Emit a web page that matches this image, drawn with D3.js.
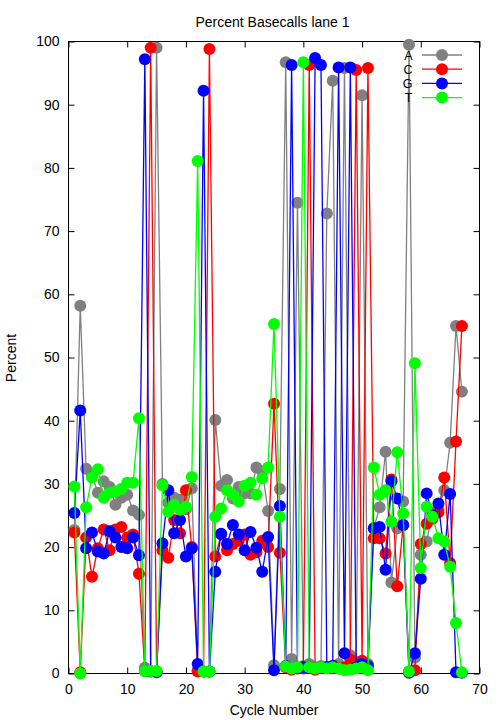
<!DOCTYPE html>
<html>
<head>
<meta charset="utf-8">
<script src="https://cdn.jsdelivr.net/npm/d3@7"></script>
<style>
  html, body { margin: 0; padding: 0; background: #fff; }
  svg { display: block; }
  text { font-family: "Liberation Sans", Arial, Helvetica, sans-serif; }
</style>
</head>
<body>
<svg id="chart" width="504" height="720"></svg>
<script>
const cycles = [1,2,3,4,5,6,7,8,9,10,11,12,13,14,15,16,17,18,19,20,21,22,23,24,25,26,27,28,29,30,31,32,33,34,35,36,37,38,39,40,41,42,43,44,45,46,47,48,49,50,51,52,53,54,55,56,57,58,59,60,61,62,63,64,65,66,67];

const seriesA = [22.7,58.2,32.4,31.4,28.6,30.4,29.5,26.7,27.8,28.3,25.8,25.1,0.9,0.4,99.0,30.0,27.0,27.8,27.5,26.0,29.3,0.5,0.3,0.3,40.1,29.7,30.6,27.7,29.5,28.5,28.5,32.6,32.0,25.7,1.3,29.2,96.7,2.3,74.5,1.2,1.5,1.0,1.2,72.8,93.8,1.5,95.8,2.9,1.8,91.5,1.5,23.0,26.3,35.1,14.4,23.0,27.2,99.5,2.5,18.8,20.9,25.5,26.0,29.0,36.5,55.0,44.6];

const seriesC = [22.3,0.2,21.5,15.3,19.8,22.8,19.5,22.8,23.2,21.5,22.0,15.8,0.4,99.0,0.3,19.5,18.3,24.3,22.2,29.0,20.0,0.3,0.3,98.8,18.5,22.0,19.5,20.5,21.0,22.0,18.8,19.2,21.0,20.0,42.7,19.1,1.0,0.6,1.0,0.8,96.3,0.6,1.0,1.0,1.2,0.8,1.0,2.2,95.5,2.0,95.8,21.4,21.4,19.0,30.7,13.8,23.5,0.3,0.5,20.5,23.7,24.5,25.5,31.0,17.5,36.7,55.0];

const seriesG = [25.4,41.6,19.8,22.3,19.3,19.0,22.5,21.5,20.0,19.8,21.5,18.7,97.2,0.3,0.2,20.6,29.0,22.2,24.3,18.5,19.8,1.5,92.2,0.3,16.1,22.1,20.5,23.5,22.0,19.5,22.4,19.9,16.1,21.6,0.5,26.5,1.2,96.3,0.8,1.0,1.0,97.4,96.3,1.0,1.2,95.9,3.2,95.9,1.0,1.5,1.2,23.0,23.2,16.4,30.4,27.7,23.5,0.1,3.2,15.0,28.5,25.0,26.9,18.8,28.4,0.2,0.1];

const seriesT = [29.6,0.0,26.3,31.0,32.3,27.8,28.6,28.8,29.2,30.2,30.2,40.4,0.4,0.4,0.4,29.8,25.6,26.7,25.9,26.4,31.1,81.1,0.3,0.3,24.8,26.1,29.0,28.3,27.2,29.7,30.2,28.3,30.9,32.6,55.3,24.8,1.1,0.8,1.0,96.7,1.0,0.8,1.0,0.8,1.0,0.8,0.5,0.6,0.8,1.0,0.5,32.6,28.3,29.0,24.0,35.0,25.3,0.3,49.1,16.7,26.4,24.8,21.4,20.9,16.9,8.0,0.2];

const seriesNames = ["A","C","G","T"];
const seriesColors = ["#808080","#ff0000","#0000ff","#00ff00"];
const xTicks = [0,10,20,30,40,50,60,70];
const yTicks = [0,10,20,30,40,50,60,70,80,90,100];

const titleText = "Percent Basecalls lane 1";
const xLabel = "Cycle Number";
const yLabel = "Percent";

const seriesValues = [seriesA, seriesC, seriesG, seriesT];

const svg = d3.select("#chart");
const L = 68.5, R = 479.5, T = 41.5, B = 673.5;

const x = d3.scaleLinear().domain([0,70]).range([L,R]);
const y = d3.scaleLinear().domain([0,100]).range([B,T]);

const fontSize = 14;

// frame
svg.append("rect").attr("x",L).attr("y",T).attr("width",R-L).attr("height",B-T)
  .attr("fill","none").attr("stroke","#000").attr("stroke-width",1);

// axes (inward ticks, mirrored)
const axB = svg.append("g").attr("transform",`translate(0,${B})`)
  .call(d3.axisBottom(x).tickValues(xTicks).tickSizeInner(-6).tickSizeOuter(0).tickPadding(11));
const axT = svg.append("g").attr("transform",`translate(0,${T})`)
  .call(d3.axisTop(x).tickValues(xTicks).tickSizeInner(-6).tickSizeOuter(0).tickFormat(""));
const axL = svg.append("g").attr("transform",`translate(${L},0)`)
  .call(d3.axisLeft(y).tickValues(yTicks).tickSizeInner(-6).tickSizeOuter(0).tickPadding(9));
const axR = svg.append("g").attr("transform",`translate(${R},0)`)
  .call(d3.axisRight(y).tickValues(yTicks).tickSizeInner(-6).tickSizeOuter(0).tickFormat(""));

[axB,axT,axL,axR].forEach(g => {
  g.select(".domain").remove();
  g.selectAll("line").attr("stroke","#000");
  g.selectAll("text").attr("font-size",fontSize).attr("fill","#000")
    .style("font-family",'"Liberation Sans", Arial, sans-serif');
});

// title & labels
svg.append("text").attr("x",272.5).attr("y",27).attr("text-anchor","middle")
  .attr("font-size",fontSize).text(titleText);
svg.append("text").attr("x",274).attr("y",715).attr("text-anchor","middle")
  .attr("font-size",fontSize).text(xLabel);
svg.append("text").attr("transform","translate(16,358) rotate(-90)").attr("text-anchor","middle")
  .attr("font-size",fontSize).text(yLabel);

// series
const line = d3.line().x(d => x(d[0])).y(d => y(d[1]));
seriesValues.forEach((vals, i) => {
  const pts = cycles.map((c, j) => [c, vals[j]]);
  const g = svg.append("g");
  g.append("path").datum(pts).attr("d", line).attr("fill","none")
    .attr("stroke", seriesColors[i]).attr("stroke-width",1.3);
  g.selectAll("circle").data(pts).enter().append("circle")
    .attr("cx", d => x(d[0])).attr("cy", d => y(d[1])).attr("r",6)
    .attr("fill", seriesColors[i]);
});

// legend
const legY0 = 55, legDy = 14.2;
seriesNames.forEach((n, i) => {
  const yy = legY0 + i*legDy;
  svg.append("text").attr("x",412.5).attr("y",yy).attr("dy","0.36em")
    .attr("text-anchor","end").attr("font-size",12.5).text(n);
  svg.append("line").attr("x1",422).attr("x2",462).attr("y1",yy).attr("y2",yy)
    .attr("stroke",seriesColors[i]).attr("stroke-width",1.3);
  svg.append("circle").attr("cx",442).attr("cy",yy).attr("r",6).attr("fill",seriesColors[i]);
});
</script>
</body>
</html>
